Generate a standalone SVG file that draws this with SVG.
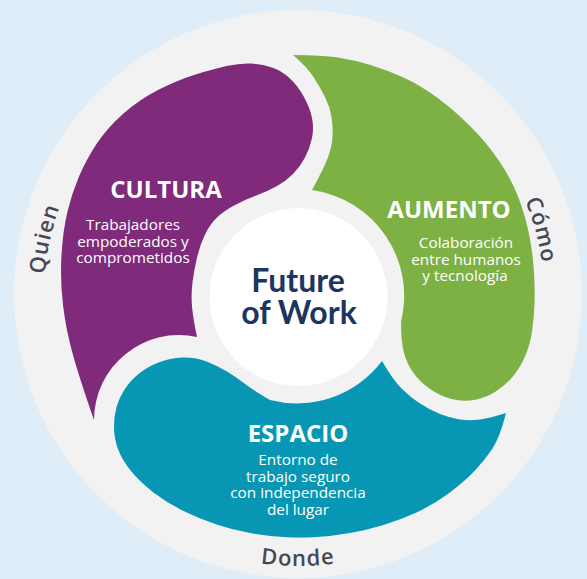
<svg xmlns="http://www.w3.org/2000/svg" width="587" height="579" viewBox="0 0 587 579">
<style>
.bg{fill:#deedf8}
.ring{fill:#f2f2f2}
.head{font-family:"Open Sans","Liberation Sans",sans-serif;font-weight:700;font-size:24px;fill:#ffffff;text-anchor:middle}
.sub{font-family:"Open Sans","Liberation Sans",sans-serif;font-weight:400;font-size:15.3px;fill:#ffffff;text-anchor:middle}
.ringtxt{font-family:"Open Sans","Liberation Sans",sans-serif;font-weight:600;font-size:22px;fill:#474753;letter-spacing:1px}
.center{font-family:Lato,"Open Sans","Liberation Sans",sans-serif;font-weight:700;font-size:32px;fill:#1d3560;text-anchor:middle}
</style>
<defs>
<path id="pQuien" d="M78,422 A254 254 0 0 1 152.3,86.9"/>
<path id="pComo" d="M421,82 A246 246 0 0 1 511,418"/>
<path id="pDonde" d="M106.4,486.6 A271 271 0 0 0 489.6,486.6"/>
</defs>
<rect class="bg" x="0" y="0" width="587" height="579"/>
<circle class="ring" cx="298" cy="294" r="284"/>

<g id="node-cultura">
<path fill="#7f2a7b" d="M94,420 Q80,380 73,355 Q66,330 63,305 Q60,280 61.5,255 Q63,230 67.5,211.5 Q72,193 79,176.5 Q86,160 96.5,144 Q107,128 123.5,113.5 Q140,99 159,89.5 Q178,80 195.5,74.5 Q213,69 226.5,66 Q240,63 251,63.5 Q262,64 272,67.5 Q282,71 290,78.5 Q298,86 304,97 Q310,108 312,118 Q314,128 312,138 Q310,148 305,157.5 Q300,167 293,174 Q286,181 277,186 Q268,191 257.5,195 Q247,199 236,204.5 Q225,210 217.5,217 Q210,224 205,234.5 Q200,245 197,257.5 Q194,270 192.5,282.5 Q191,295 192,306.5 Q193,318 197,337 A85 85 0 0 0 94,420 Z"/>
<text class="head" x="166" y="198">CULTURA</text>
<text class="sub" x="133" y="230">Trabajadores</text>
<text class="sub" x="133" y="246.5">empoderados y</text>
<text class="sub" x="133" y="263">comprometidos</text>
</g>

<g id="node-aumento">
<path fill="#7db143" d="M293,55 Q322,55 338,57.5 Q354,60 370.5,65 Q387,70 403.5,77.5 Q420,85 437,97.5 Q454,110 470.5,126.5 Q487,143 499.5,161.5 Q512,180 519,199 Q526,218 529.5,236.5 Q533,255 534,272.5 Q535,290 534.5,304 Q534,318 532,331.5 Q530,345 525,356.5 Q520,368 512.5,377 Q505,386 495,392 Q485,398 474,400 Q463,402 451.5,399 Q440,396 430,389 Q420,382 413.5,373 Q407,364 404,353 Q401,342 401,322 A107 107 0 0 0 312,190 Q323,170 327.5,158.5 Q332,147 332.5,137 Q333,127 331.5,117 Q330,107 325,97 Q320,87 313.5,77 Q307,67 293,55 Z"/>
<text class="head" x="449" y="218">AUMENTO</text>
<text class="sub" x="466" y="248">Colaboración</text>
<text class="sub" x="466" y="264.5">entre humanos</text>
<text class="sub" x="465" y="281">y tecnología</text>
</g>

<g id="node-espacio">
<path fill="#0797b4" d="M506,413 Q500,437 492.5,448.5 Q485,460 474.5,471 Q464,482 448.5,493.5 Q433,505 416.5,512.5 Q400,520 383.5,525 Q367,530 350,533 Q333,536 316.5,537 Q300,538 283.5,537 Q267,536 250,533 Q233,530 216.5,524.5 Q200,519 183.5,511 Q167,503 153.5,492.5 Q140,482 131,471 Q122,460 118,449 Q114,438 114,427 Q114,416 116.5,407 Q119,398 124.5,389.5 Q130,381 138.5,374 Q147,367 158.5,362.5 Q170,358 182.5,357.5 Q195,357 206.5,361.5 Q218,366 227,371.5 Q236,377 244.5,383.5 Q253,390 270,400 A107 107 0 0 0 382,361 Q393,380 401.5,388.5 Q410,397 420,403.5 Q430,410 440,414 Q450,418 460,419.5 Q470,421 480,419.5 Q490,418 506,413 Z"/>
<text class="head" x="298" y="442">ESPACIO</text>
<text class="sub" x="298" y="465">Entorno de</text>
<text class="sub" x="298" y="481.5">trabajo seguro</text>
<text class="sub" x="298" y="498">con independencia</text>
<text class="sub" x="298" y="514.5">del lugar</text>
</g>

<g id="node-center">
<circle cx="298.5" cy="297" r="89" fill="#ffffff"/>
<text class="center" x="298" y="292">Future</text>
<text class="center" x="299" y="324">of Work</text>
</g>

<g id="ring-labels">
<text class="ringtxt"><textPath href="#pQuien" startOffset="50%" text-anchor="middle">Quien</textPath></text>
<text class="ringtxt"><textPath href="#pComo" startOffset="50%" text-anchor="middle">Cómo</textPath></text>
<text class="ringtxt"><textPath href="#pDonde" startOffset="50%" text-anchor="middle">Donde</textPath></text>
</g>

<g id="connectors"></g>
</svg>
